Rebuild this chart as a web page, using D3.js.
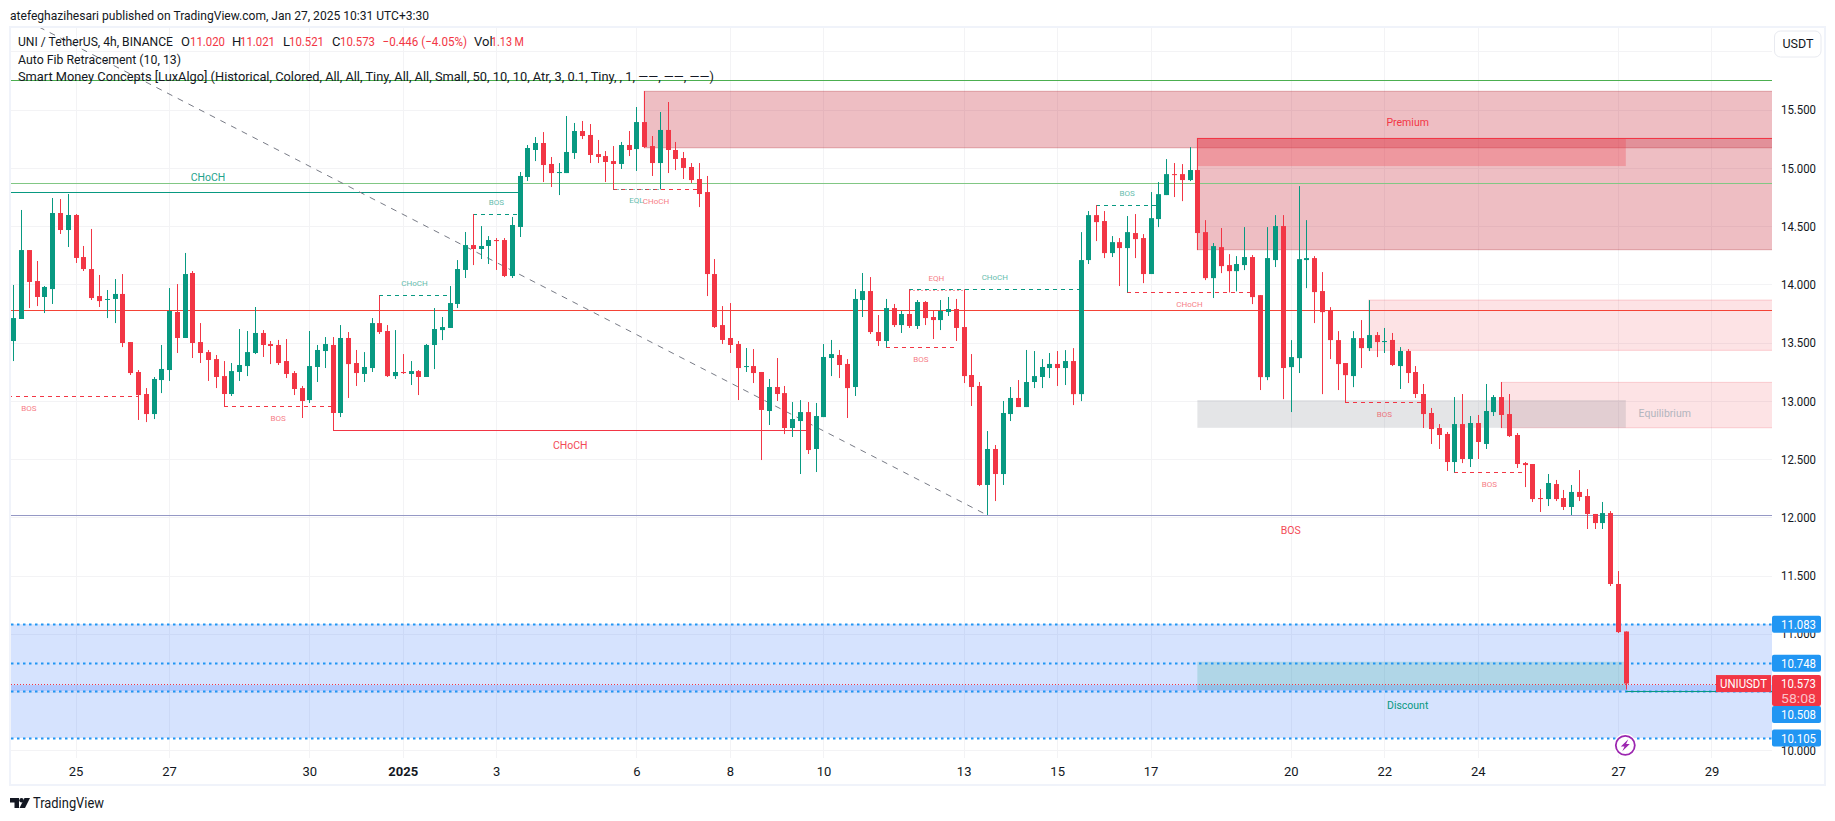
<!DOCTYPE html>
<html>
<head>
<meta charset="utf-8">
<script src="https://cdn.jsdelivr.net/npm/d3@7"></script>
<style>
  body { margin: 0; background: #fff; }
  text { font-family: Roboto, sans-serif; }
</style>
</head>
<body>
<div id="vis"></div>
<script>
// 4h candles, first bar is Dec 23 2024
const OPENS = [
  13.514,13.703,14.295,14.029,13.892,13.960,14.613,14.467,14.596,14.235,
  14.132,13.900,13.869,13.875,13.918,13.505,13.248,13.059,12.887,13.179,
  13.265,13.763,13.540,14.098,13.505,13.419,13.359,13.213,13.059,13.248,
  13.299,13.411,13.583,13.488,13.480,13.342,13.239,13.110,13.007,13.291,
  13.428,13.480,12.896,13.540,13.325,13.231,13.282,13.668,13.600,13.213,
  13.248,13.231,13.256,13.205,13.480,13.608,13.626,13.832,14.124,14.338,
  14.304,14.330,14.381,14.381,14.072,14.493,14.922,15.154,15.214,15.034,
  14.956,14.956,15.128,15.317,15.283,15.119,15.102,15.059,15.034,15.197,
  15.162,15.394,15.188,15.042,15.326,15.154,15.085,15.008,14.905,14.793,
  14.089,13.651,13.540,13.488,13.291,13.299,13.248,12.913,13.119,13.067,
  12.767,12.827,12.904,12.587,12.861,13.368,13.394,13.317,13.119,13.866,
  13.943,13.591,13.514,13.797,13.651,13.746,13.643,13.849,13.720,13.694,
  13.763,13.789,13.634,13.222,13.128,12.278,12.587,12.372,12.887,13.025,
  12.947,13.162,13.205,13.282,13.317,13.282,13.342,13.058,14.209,14.595,
  14.544,14.269,14.363,14.312,14.441,14.398,14.089,14.561,14.767,14.947,
  14.947,14.896,14.982,14.449,14.054,14.320,14.166,14.114,14.166,14.235,
  13.908,13.204,14.209,14.501,13.290,13.367,14.209,14.226,13.943,13.777,
  13.522,13.325,13.213,13.539,13.453,13.565,13.505,13.523,13.299,13.428,
  13.248,13.059,12.896,12.767,12.716,12.475,12.801,12.501,12.810,12.630,
  12.904,13.033,12.887,12.707,12.466,12.458,12.166,12.157,12.286,12.166,
  12.089,12.218,12.183,12.029,11.951,12.037,11.428,11.020];
const HIGHS = [
  13.995,14.639,14.295,14.201,13.986,14.742,14.733,14.776,14.604,14.330,
  14.476,14.081,13.952,14.046,14.089,13.505,13.265,13.110,13.205,13.480,
  13.969,14.003,14.270,14.115,13.668,13.437,13.394,13.342,13.325,13.617,
  13.600,13.806,13.608,13.514,13.523,13.531,13.256,13.128,13.600,13.480,
  13.548,13.548,13.651,13.591,13.437,13.419,13.711,13.906,13.651,13.608,
  13.402,13.342,13.265,13.488,13.797,13.720,13.986,14.209,14.450,14.604,
  14.501,14.415,14.398,14.398,14.579,14.965,15.197,15.265,15.308,15.094,
  15.042,15.446,15.386,15.403,15.377,15.240,15.145,15.188,15.223,15.317,
  15.523,15.660,15.274,15.480,15.566,15.223,15.137,15.042,15.042,14.931,
  14.218,13.814,13.840,13.514,13.454,13.445,13.248,13.188,13.368,13.128,
  12.990,13.007,12.990,12.982,13.488,13.523,13.437,13.359,13.960,14.098,
  14.063,13.737,13.875,13.832,13.772,13.958,13.866,13.857,13.772,13.866,
  13.892,13.875,13.958,13.402,13.162,12.741,12.621,12.999,13.119,13.179,
  13.437,13.428,13.359,13.411,13.428,13.436,13.453,14.449,14.630,14.681,
  14.630,14.415,14.398,14.587,14.604,14.432,14.793,14.879,15.076,15.042,
  15.033,15.179,15.253,14.552,14.355,14.484,14.260,14.243,14.492,14.252,
  13.908,14.492,14.595,14.595,13.522,14.844,14.552,14.243,14.106,13.805,
  13.599,13.325,13.599,13.694,13.865,13.591,13.626,13.583,13.462,13.445,
  13.299,13.145,12.939,12.801,12.733,13.033,13.059,12.870,12.879,13.145,
  13.050,13.162,13.059,12.724,12.475,12.458,12.243,12.372,12.321,12.235,
  12.278,12.406,12.243,12.029,12.132,12.054,11.539,11.021];
const LOWS = [
  13.342,13.703,13.797,13.814,13.754,13.832,14.433,14.321,14.184,14.115,
  13.866,13.806,13.711,13.668,13.462,13.222,12.836,12.818,12.844,13.067,
  13.171,13.411,13.540,13.368,13.325,13.171,13.110,12.956,13.042,13.171,
  13.213,13.402,13.377,13.316,13.308,13.196,13.050,12.853,12.982,13.162,
  13.282,12.747,12.861,13.025,13.128,13.162,13.248,13.574,13.205,13.188,
  13.231,13.136,13.050,13.205,13.273,13.522,13.626,13.797,14.055,14.166,
  14.218,14.175,14.124,14.063,14.055,14.407,14.888,15.059,14.879,14.836,
  14.767,14.956,15.077,15.248,15.042,15.042,14.879,14.816,14.991,15.102,
  14.974,15.171,14.931,14.816,14.956,14.982,14.905,14.871,14.664,13.900,
  13.626,13.488,13.411,13.007,13.248,13.153,12.492,12.793,12.999,12.715,
  12.690,12.372,12.544,12.389,12.861,13.213,13.196,12.853,13.042,13.720,
  13.574,13.471,13.460,13.634,13.583,13.626,13.617,13.651,13.531,13.608,
  13.729,13.514,13.153,12.956,12.269,12.020,12.140,12.278,12.827,12.947,
  12.947,13.110,13.110,13.196,13.128,13.136,12.964,12.998,14.175,14.372,
  14.226,14.235,13.986,13.931,14.226,14.011,14.089,14.492,14.767,14.750,
  14.715,14.887,14.295,14.037,13.883,14.097,13.931,13.940,14.123,13.831,
  13.093,13.178,14.149,13.015,12.904,13.239,13.968,13.668,13.058,13.359,
  13.093,12.987,13.118,13.282,13.428,13.376,13.411,13.299,13.102,13.153,
  13.025,12.767,12.630,12.587,12.398,12.386,12.466,12.432,12.501,12.587,
  12.870,12.767,12.690,12.424,12.260,12.132,12.046,12.097,12.140,12.063,
  12.020,12.140,11.900,11.900,11.900,11.410,11.007,10.521];
const CLOSES = [
  13.711,14.295,14.021,13.892,13.978,14.613,14.467,14.596,14.227,14.132,
  13.883,13.857,13.875,13.918,13.497,13.239,13.050,12.887,13.188,13.274,
  13.772,13.540,14.089,13.497,13.411,13.351,13.205,13.059,13.256,13.308,
  13.419,13.583,13.480,13.471,13.325,13.231,13.102,12.999,13.299,13.437,
  13.488,12.896,13.540,13.316,13.239,13.291,13.668,13.591,13.213,13.248,
  13.239,13.256,13.205,13.480,13.617,13.634,13.840,14.132,14.338,14.304,
  14.330,14.381,14.372,14.072,14.510,14.931,15.171,15.214,15.025,14.956,
  14.965,15.137,15.317,15.274,15.111,15.094,15.051,15.034,15.197,15.154,
  15.394,15.180,15.042,15.326,15.154,15.077,15.000,14.896,14.776,14.089,
  13.634,13.523,13.480,13.282,13.299,13.239,12.922,13.119,13.059,12.767,
  12.844,12.904,12.578,12.870,13.377,13.402,13.308,13.110,13.875,13.943,
  13.591,13.514,13.797,13.651,13.746,13.643,13.849,13.711,13.694,13.772,
  13.789,13.626,13.213,13.119,12.278,12.587,12.372,12.896,13.025,12.947,
  13.162,13.213,13.291,13.317,13.282,13.342,13.058,14.209,14.595,14.535,
  14.269,14.363,14.312,14.449,14.389,14.089,14.569,14.775,14.947,14.939,
  14.896,14.982,14.441,14.054,14.329,14.157,14.114,14.175,14.235,13.891,
  13.204,14.226,14.501,13.282,13.376,14.217,14.226,13.934,13.762,13.522,
  13.316,13.221,13.539,13.453,13.565,13.505,13.514,13.308,13.428,13.239,
  13.059,12.887,12.758,12.707,12.475,12.801,12.501,12.810,12.647,12.913,
  13.033,12.879,12.698,12.458,12.449,12.157,12.157,12.295,12.157,12.089,
  12.218,12.175,12.029,11.951,12.037,11.428,11.015,10.573];

// axis
const PRICE_TICKS = [15.5,15,14.5,14,13.5,13,12.5,12,11.5,11,10];
const GRID_PRICES = [16,15.5,15,14.5,14,13.5,13,12.5,12,11.5,11,10.5,10];
const DATE_BARS = [8,20,38,50,62,80,92,104,122,134,146,164,176,188,206,218];
const DATE_LABELS = ["25","27","30","2025","3","6","8","10","13","15","17","20","22","24","27","29"];

// auto fib levels and the dashed trend between its anchors
const FIB_LEVELS = [15.752,14.868,13.777,12.017];
const FIB_COLORS = ["#4caf50","#81c784","#f44336","#9598c5"];
const FIB_ANCHORS = [[3.3,16.21],[125,12.02]];

// smart money boxes, from/to are bar numbers
const ZONES = [
  {kind:"discount", from:-15, to:226, top:11.083, bottom:10.105},
  {kind:"band",     from:-15, to:226, top:10.56,  bottom:10.508},
  {kind:"block",    from:81,  to:226, top:15.658, bottom:15.173},
  {kind:"block",    from:152, to:226, top:15.254, bottom:14.298},
  {kind:"premium",  from:152, to:207, top:15.254, bottom:15.016},
  {kind:"soft",     from:174, to:226, top:13.866, bottom:13.434},
  {kind:"soft",     from:191, to:226, top:13.159, bottom:12.769},
  {kind:"equil",    from:152, to:207, top:13.007, bottom:12.769},
  {kind:"teal",     from:152, to:207, top:10.76,  bottom:10.517}
];
const ZONE_FILL = {
  discount: "rgba(37,105,250,0.19)",
  band: "rgba(41,98,255,0.2)",
  block: "rgba(200,40,55,0.3)",
  premium: "rgba(242,54,69,0.28)",
  soft: "rgba(242,54,69,0.14)",
  equil: "rgba(120,123,134,0.2)",
  teal: "rgba(8,153,129,0.18)"
};
const ZONE_STROKE = {
  block: "rgba(178,40,51,0.35)",
  soft: "rgba(242,54,69,0.2)"
};

// structure breaks. dir: 1 is bullish (green, label above), -1 bearish (red, label below)
const STRUCTURE = [
  {from:-15, to:65,  price:14.792, dir:1,  label:"CHoCH", style:"solid"},
  {from:41,  to:102, price:12.747, dir:-1, label:"CHoCH", style:"solid"},
  {from:125, to:203, price:12.017, dir:-1, label:"BOS",   style:"solid"},
  {from:152, to:226, price:15.254, dir:-1, label:"",      style:"solid"},
  {from:-12, to:16,  price:13.039, dir:-1, label:"BOS",   style:"dash"},
  {from:27,  to:41,  price:12.953, dir:-1, label:"BOS",   style:"dash"},
  {from:47,  to:56,  price:13.906, dir:1,  label:"CHoCH", style:"dash"},
  {from:59,  to:65,  price:14.602, dir:1,  label:"BOS",   style:"dash"},
  {from:77,  to:88,  price:14.816, dir:-1, label:"CHoCH", style:"dash"},
  {from:112, to:121, price:13.46,  dir:-1, label:"BOS",   style:"dash"},
  {from:115, to:137, price:13.958, dir:1,  label:"CHoCH", style:"dash"},
  {from:139, to:147, price:14.678, dir:1,  label:"BOS",   style:"dash"},
  {from:143, to:159, price:13.931, dir:-1, label:"CHoCH", style:"dash"},
  {from:171, to:181, price:12.987, dir:-1, label:"BOS",   style:"dash"},
  {from:185, to:194, price:12.387, dir:-1, label:"BOS",   style:"dash"},
  {from:77,  to:83,  price:14.822, dir:1,  label:"EQL",   style:"dot", below:true},
  {from:115, to:122, price:13.952, dir:-1, label:"EQH",   style:"dot", above:true}
];

// dotted pivot levels with their tags on the price scale
const LEVELS = [11.083,10.748,10.508,10.105];
const LEVEL_SHIFT = [0,0,23.4,0];
const LAST_PRICE = 10.573;

const FRAME_WIDTH = 1835;
const FRAME_HEIGHT = 821;
const PLOT = {left: 11, right: 1772, top: 28, bottom: 758};
const PRICE_TEXT_WIDTH = 35;
const RED = "#f23645";
const GREEN = "#089981";
const INK = "#131722";

const FRAME = d3.select("#vis").append("svg")
  .attr("width", FRAME_WIDTH)
  .attr("height", FRAME_HEIGHT)
  .style("display", "block");

const X_SCALE = d3.scaleLinear().domain([0, 207]).range([13.3, 1625.8]);
const Y_SCALE = d3.scaleLinear().domain([10, 15.5]).range([750.3, 109.7]);

// snap a horizontal line to a whole pixel row
const rowY = (p) => { return Math.round(Y_SCALE(p)) + 0.5; };

// header above the chart
FRAME.append("text").attr("x", 10).attr("y", 19.5)
  .attr("font-size", 13).attr("fill", INK)
  .attr("textLength", 419).attr("lengthAdjust", "spacingAndGlyphs")
  .text("atefeghazihesari published on TradingView.com, Jan 27, 2025 10:31 UTC+3:30");

FRAME.append("rect")
  .attr("x", 10).attr("y", 27)
  .attr("width", 1815).attr("height", 758)
  .attr("fill", "none").attr("stroke", "#f0f3fa").attr("stroke-width", 2);

FRAME.append("clipPath").attr("id", "plot-clip")
  .append("rect")
  .attr("x", PLOT.left).attr("y", PLOT.top)
  .attr("width", PLOT.right - PLOT.left).attr("height", PLOT.bottom - PLOT.top);

const PLOT_G = FRAME.append("g").attr("clip-path", "url(#plot-clip)");

// gridlines
PLOT_G.selectAll(".hgrid").data(GRID_PRICES).enter().append("line")
  .attr("x1", PLOT.left).attr("x2", PLOT.right)
  .attr("y1", rowY).attr("y2", rowY)
  .attr("stroke", "#f3f3f5");
PLOT_G.selectAll(".vgrid").data(DATE_BARS).enter().append("line")
  .attr("x1", (d) => { return Math.round(X_SCALE(d)) + 0.5; })
  .attr("x2", (d) => { return Math.round(X_SCALE(d)) + 0.5; })
  .attr("y1", PLOT.top).attr("y2", PLOT.bottom)
  .attr("stroke", "#f3f3f5");

// boxes
PLOT_G.selectAll(".zone").data(ZONES).enter().append("rect")
  .attr("x", (d) => { return X_SCALE(d.from); })
  .attr("y", (d) => { return Y_SCALE(d.top); })
  .attr("width", (d) => { return X_SCALE(d.to) - X_SCALE(d.from); })
  .attr("height", (d) => { return Y_SCALE(d.bottom) - Y_SCALE(d.top); })
  .attr("fill", (d) => { return ZONE_FILL[d.kind]; })
  .attr("stroke", (d) => { return ZONE_STROKE[d.kind] || "none"; });

// structure lines and their labels
PLOT_G.selectAll(".structure").data(STRUCTURE).enter().append("line")
  .attr("x1", (d) => { return X_SCALE(d.from); })
  .attr("x2", (d) => { return X_SCALE(d.to); })
  .attr("y1", (d) => { return rowY(d.price); })
  .attr("y2", (d) => { return rowY(d.price); })
  .attr("stroke", (d) => { return d.dir > 0 ? GREEN : RED; })
  .attr("stroke-width", 1)
  .attr("shape-rendering", "crispEdges")
  .attr("opacity", (d) => { return d.style == "dot" ? 0.5 : 1; })
  .attr("stroke-dasharray", (d) => {
    if (d.style == "dash") return "4 4";
    if (d.style == "dot") return "2 2";
    return null;
  });

PLOT_G.selectAll(".structure-label").data(STRUCTURE.filter((d) => { return d.label; })).enter().append("text")
  .attr("x", (d) => { return X_SCALE((d.from + d.to) / 2); })
  .attr("y", (d) => {
    const offset = d.style == "solid" ? 14.5 : 12;
    const side = d.above ? -1 : d.below ? 1 : -d.dir;
    return Y_SCALE(d.price) + side * offset;
  })
  .attr("dy", "0.35em")
  .attr("text-anchor", "middle")
  .attr("font-size", (d) => { return d.style == "solid" ? 10.5 : 8; })
  .attr("fill", (d) => { return d.dir > 0 ? GREEN : RED; })
  .attr("opacity", (d) => { return d.style == "solid" ? 0.9 : 0.65; })
  .text((d) => { return d.label; });

// fib levels and the dashed trend line
PLOT_G.selectAll(".fib").data(FIB_LEVELS).enter().append("line")
  .attr("x1", PLOT.left).attr("x2", PLOT.right)
  .attr("y1", rowY).attr("y2", rowY)
  .attr("stroke", (d, i) => { return FIB_COLORS[i]; })
  .attr("stroke-width", 1)
  .attr("shape-rendering", "crispEdges");

PLOT_G.append("path")
  .attr("d", d3.line().x((d) => { return X_SCALE(d[0]); }).y((d) => { return Y_SCALE(d[1]); })(FIB_ANCHORS))
  .attr("fill", "none")
  .attr("stroke", "#787b86")
  .attr("stroke-width", 1)
  .attr("stroke-dasharray", "6 6");

// dotted levels, last price and the small stub off the last bar
PLOT_G.selectAll(".level").data(LEVELS).enter().append("line")
  .attr("x1", PLOT.left).attr("x2", PLOT.right)
  .attr("y1", rowY).attr("y2", rowY)
  .attr("stroke", "#2196f3")
  .attr("stroke-width", 2)
  .attr("stroke-dasharray", "2.5 3.5");
PLOT_G.append("line")
  .attr("x1", PLOT.left).attr("x2", PLOT.right)
  .attr("y1", rowY(LAST_PRICE)).attr("y2", rowY(LAST_PRICE))
  .attr("stroke", RED)
  .attr("stroke-dasharray", "1 2");
PLOT_G.append("line")
  .attr("x1", X_SCALE(207)).attr("x2", PLOT.right)
  .attr("y1", rowY(10.508)).attr("y2", rowY(10.508))
  .attr("stroke", GREEN)
  .attr("stroke-width", 1)
  .attr("shape-rendering", "crispEdges");

// candles
const BARS = d3.range(OPENS.length);
const barColor = (i) => { return CLOSES[i] >= OPENS[i] ? GREEN : RED; };

PLOT_G.selectAll(".wick").data(BARS).enter().append("line")
  .attr("x1", (i) => { return Math.round(X_SCALE(i)) + 0.5; })
  .attr("x2", (i) => { return Math.round(X_SCALE(i)) + 0.5; })
  .attr("y1", (i) => { return Y_SCALE(HIGHS[i]); })
  .attr("y2", (i) => { return Y_SCALE(LOWS[i]); })
  .attr("stroke", barColor);

PLOT_G.selectAll(".body").data(BARS).enter().append("rect")
  .attr("x", (i) => { return Math.round(X_SCALE(i)) - 2; })
  .attr("y", (i) => { return Y_SCALE(Math.max(OPENS[i], CLOSES[i])); })
  .attr("width", 5)
  .attr("height", (i) => { return Math.max(1, Math.abs(Y_SCALE(OPENS[i]) - Y_SCALE(CLOSES[i]))); })
  .attr("fill", barColor);

// zone captions
const CAPTIONS = [
  {text:"Premium", bar:179, price:15.388, color:RED},
  {text:"Equilibrium", bar:212, price:12.89, color:"#b2b5be"},
  {text:"Discount", bar:179, price:10.39, color:GREEN}
];
PLOT_G.selectAll(".caption").data(CAPTIONS).enter().append("text")
  .attr("x", (d) => { return X_SCALE(d.bar); })
  .attr("y", (d) => { return Y_SCALE(d.price); })
  .attr("dy", "0.35em")
  .attr("text-anchor", "middle")
  .attr("font-size", 10.5)
  .attr("fill", (d) => { return d.color; })
  .text((d) => { return d.text; });

// price axis
const Y_AXIS = FRAME.append("g")
  .attr("transform", "translate(" + PLOT.right + ",0)")
  .call(d3.axisRight(Y_SCALE).tickValues(PRICE_TICKS).tickFormat(d3.format(".3f")).tickSize(0).tickPadding(9));
Y_AXIS.select(".domain").remove();
Y_AXIS.selectAll("text")
  .attr("font-size", 13).attr("font-family", "Roboto, sans-serif").attr("fill", INK)
  .attr("textLength", PRICE_TEXT_WIDTH).attr("lengthAdjust", "spacingAndGlyphs");

// date axis
const X_AXIS = FRAME.append("g")
  .attr("transform", "translate(0," + PLOT.bottom + ")")
  .call(d3.axisBottom(X_SCALE).tickValues(DATE_BARS)
    .tickFormat((d, i) => { return DATE_LABELS[i]; }).tickSize(0).tickPadding(9));
X_AXIS.select(".domain").remove();
X_AXIS.selectAll("text")
  .attr("font-size", 13).attr("font-family", "Roboto, sans-serif").attr("fill", INK)
  .attr("font-weight", (d, i) => { return DATE_LABELS[i] == "2025" ? 700 : 400; });

// price tags
const TAG_X = PLOT.right;
FRAME.selectAll(".tag").data(LEVELS).enter().append("rect")
  .attr("x", TAG_X)
  .attr("y", (d, i) => { return Y_SCALE(d) + LEVEL_SHIFT[i] - 8.5; })
  .attr("width", 49).attr("height", 17).attr("rx", 2)
  .attr("fill", "#2196f3");
FRAME.selectAll(".tag-text").data(LEVELS).enter().append("text")
  .attr("x", TAG_X + 9)
  .attr("y", (d, i) => { return Y_SCALE(d) + LEVEL_SHIFT[i]; })
  .attr("dy", "0.35em")
  .attr("font-size", 13).attr("fill", "#fff")
  .attr("textLength", PRICE_TEXT_WIDTH).attr("lengthAdjust", "spacingAndGlyphs")
  .text((d) => { return d3.format(".3f")(d); });

const LAST_Y = Y_SCALE(LAST_PRICE);
FRAME.append("rect").attr("x", TAG_X).attr("y", LAST_Y - 8.5).attr("width", 49).attr("height", 31).attr("rx", 2).attr("fill", RED);
FRAME.append("text").attr("x", TAG_X + 9).attr("y", LAST_Y).attr("dy", "0.35em")
  .attr("font-size", 13).attr("fill", "#fff")
  .attr("textLength", PRICE_TEXT_WIDTH).attr("lengthAdjust", "spacingAndGlyphs")
  .text(d3.format(".3f")(LAST_PRICE));
FRAME.append("text").attr("x", TAG_X + 9).attr("y", LAST_Y + 14.5).attr("dy", "0.35em")
  .attr("font-size", 13).attr("fill", "#fbc0c5")
  .attr("textLength", PRICE_TEXT_WIDTH).attr("lengthAdjust", "spacingAndGlyphs")
  .text("58:08");
FRAME.append("rect").attr("x", 1716).attr("y", LAST_Y - 8.5).attr("width", 55).attr("height", 17).attr("fill", RED);
FRAME.append("text").attr("x", 1743.5).attr("y", LAST_Y).attr("dy", "0.35em").attr("text-anchor", "middle")
  .attr("font-size", 12).attr("fill", "#fff")
  .attr("textLength", 47).attr("lengthAdjust", "spacingAndGlyphs").text("UNIUSDT");

// currency button
FRAME.append("rect").attr("x", 1774.5).attr("y", 31).attr("width", 46.5).attr("height", 26).attr("rx", 6)
  .attr("fill", "#fff").attr("stroke", "#e8eaf0");
FRAME.append("text").attr("x", 1798).attr("y", 44).attr("dy", "0.35em").attr("text-anchor", "middle")
  .attr("font-size", 12.5).attr("fill", INK).text("USDT");

// legend lines
const OHLC_LEGEND = [
  {x:18, text:"UNI / TetherUS, 4h, BINANCE", fill:INK, width:155},
  {x:181, text:"O", fill:INK}, {x:190, text:"11.020", fill:RED, width:35},
  {x:232, text:"H", fill:INK}, {x:240, text:"11.021", fill:RED, width:35},
  {x:283, text:"L", fill:INK}, {x:289, text:"10.521", fill:RED, width:35},
  {x:332, text:"C", fill:INK}, {x:340, text:"10.573", fill:RED, width:35},
  {x:382.5, text:"\u22120.446 (\u22124.05%)", fill:RED, width:84.5},
  {x:474, text:"Vol", fill:INK}, {x:491, text:"1.13 M", fill:RED, width:33}
];
FRAME.selectAll(".legend").data(OHLC_LEGEND).enter().append("text")
  .attr("x", (d) => { return d.x; }).attr("y", 46)
  .attr("font-size", 13)
  .attr("fill", (d) => { return d.fill; })
  .attr("textLength", (d) => { return d.width || null; })
  .attr("lengthAdjust", "spacingAndGlyphs")
  .text((d) => { return d.text; });
FRAME.append("text").attr("x", 18).attr("y", 63.5).attr("font-size", 13).attr("fill", INK)
  .attr("textLength", 163).attr("lengthAdjust", "spacingAndGlyphs")
  .text("Auto Fib Retracement (10, 13)");
FRAME.append("text").attr("x", 18).attr("y", 80.5).attr("font-size", 13).attr("fill", INK)
  .attr("textLength", 696).attr("lengthAdjust", "spacingAndGlyphs")
  .text("Smart Money Concepts [LuxAlgo] (Historical, Colored, All, All, Tiny, All, All, Small, 50, 10, 10, Atr, 3, 0.1, Tiny, , 1, \u2014\u2014, \u2014\u2014, \u2014\u2014)");

// lightning mark under the last bar
const BOLT = FRAME.append("g").attr("transform", "translate(1625.3,745.3)");
BOLT.append("circle").attr("r", 11.5).attr("fill", "#fff");
BOLT.append("circle").attr("r", 9.5).attr("fill", "#fff").attr("stroke", "#9c27b0").attr("stroke-width", 1.8);
BOLT.append("path").attr("d", "M3,-6 L-4.5,1.2 L-0.8,1.2 L-3,6 L4.5,-1.2 L0.8,-1.2 Z").attr("fill", "#9c27b0");

// TradingView mark
const LOGO = FRAME.append("g").attr("transform", "translate(10,798)");
LOGO.append("path").attr("d", "M0,0 H9 V10 H4.5 V4.5 H0 Z").attr("fill", INK);
LOGO.append("circle").attr("cx", 11.5).attr("cy", 2.2).attr("r", 2.2).attr("fill", INK);
LOGO.append("path").attr("d", "M14.5,0 H20 L15,10 H9.5 Z").attr("fill", INK);
FRAME.append("text").attr("x", 33).attr("y", 808).attr("font-size", 14).attr("fill", INK)
  .attr("textLength", 71).attr("lengthAdjust", "spacingAndGlyphs").text("TradingView");
</script>
</body>
</html>
